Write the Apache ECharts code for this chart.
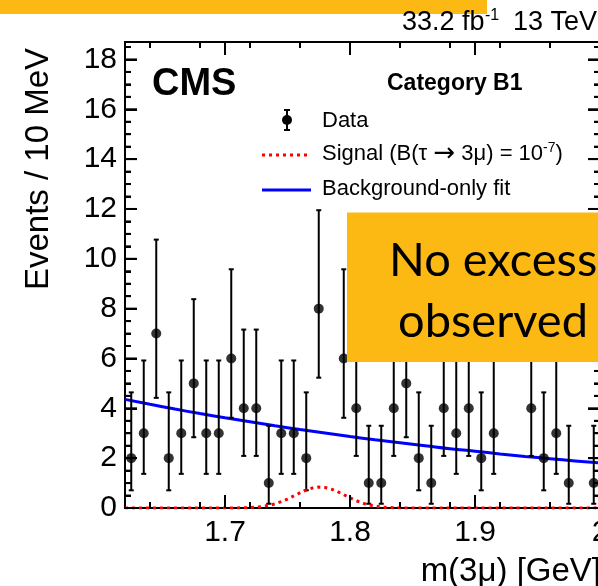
<!DOCTYPE html>
<html><head><meta charset="utf-8">
<script src="https://cdn.jsdelivr.net/npm/echarts@6/dist/echarts.min.js"></script>
<style>html,body{margin:0;padding:0;background:#fff}#c{width:598px;height:586px}</style>
</head><body><div id="c"></div>
<script>
// ---- data ----
const binCenters = [1.625,1.635,1.645,1.655,1.665,1.675,1.685,1.695,1.705,1.715,1.725,1.735,1.745,1.755,1.765,1.775,1.785,1.795,1.805,1.815,1.825,1.835,1.845,1.855,1.865,1.875,1.885,1.895,1.905,1.915,1.925,1.935,1.945,1.955,1.965,1.975,1.985,1.995];
const counts = [2,3,7,2,3,5,3,3,6,4,4,1,3,3,2,8,0,6,4,1,1,4,5,2,1,4,3,4,2,3,0,0,4,2,3,1,0,1];
// error-bar ends read for each count value (index = count)
const errLowByCount  = [0, 0.17, 0.71, 1.37, 2.09, 2.84, 3.62, 4.42, 5.23];
const errHighByCount = [1.84, 3.30, 4.64, 5.92, 7.16, 8.38, 9.58, 10.77, 11.95];
const bkgMass = [1.62,1.64,1.66,1.68,1.70,1.72,1.74,1.76,1.78,1.80,1.82,1.84,1.86,1.88,1.90,1.92,1.94,1.96,1.98,2.00];
const bkgFit  = [4.36,4.16,3.97,3.79,3.62,3.46,3.30,3.15,3.01,2.87,2.74,2.62,2.50,2.38,2.28,2.17,2.07,1.98,1.89,1.81];
const sigMass = [1.62,1.70,1.71,1.72,1.725,1.73,1.735,1.74,1.745,1.75,1.755,1.76,1.765,1.77,1.775,1.78,1.785,1.79,1.795,1.80,1.805,1.81,1.815,1.82,1.825,1.83,1.84,1.85,1.86,2.00];
const sigVal  = [0,0.001,0.004,0.017,0.033,0.060,0.103,0.166,0.253,0.361,0.484,0.610,0.722,0.803,0.839,0.823,0.759,0.657,0.535,0.409,0.294,0.198,0.125,0.075,0.042,0.022,0.005,0.001,0,0];
const yMajorTicks = [0,2,4,6,8,10,12,14,16,18];
const xMajorTicks = [1.7,1.8,1.9,2.0];
const xMin = 1.62, xMax = 2.0, yMin = 0, yMax = 18.7;

// minor tick positions (axis decoration)
const yMinorTicks = []; for (let k = 1; k * 0.5 < yMax; k++) { if (k % 4 !== 0) yMinorTicks.push(k * 0.5); }
const xMinorTicks = []; for (let k = 82; k < 100; k += 2) { if (k % 5 !== 0) xMinorTicks.push(+(k / 50).toFixed(2)); }

const ORANGE = '#FDB913';
const FONT = 'Liberation Sans, Arial, Helvetica, sans-serif';

const points = [];
binCenters.forEach((m, i) => { if (counts[i] > 0) points.push([m, counts[i], errLowByCount[counts[i]], errHighByCount[counts[i]]]); });

// tick table: [x value, y value, length, orientation (0 = x tick, 1 = y tick)]
// rows are anchored inside the plot; the tick itself is drawn at the frame edge
const yMid = 9, xMid = 1.8;
const tickData = xMinorTicks.map(v => [v, yMid, 6, 0])
  .concat(xMajorTicks.map(v => [v, yMid, 13, 0]))
  .concat(yMinorTicks.map(v => [xMid, v, 6, 1]))
  .concat(yMajorTicks.map(v => [xMid, v, 12, 1]));

const GRID = { left: 125, top: 42, width: 475, height: 466, outerBoundsMode: 'none' };
function gridDef(show) {
  return Object.assign({}, GRID, show ? { show: true, borderColor: '#000', borderWidth: 2, backgroundColor: 'transparent' } : { show: false });
}
function tickAxis(gi, pos, ticks, len, isX) {
  return {
    type: 'value', gridIndex: gi, position: pos,
    min: isX ? xMin : yMin, max: isX ? xMax : yMax,
    splitLine: { show: false },
    axisLine: { show: true, onZero: false, lineStyle: { color: '#000', width: 2 } },
    axisTick: { show: true, inside: true, length: len, customValues: ticks, lineStyle: { color: '#000', width: 2 } },
    axisLabel: { show: false }
  };
}

const chart = echarts.init(document.getElementById('c'), null, { renderer: 'canvas' });
chart.setOption({
  animation: false,
  grid: [gridDef(true), gridDef(false), gridDef(false), gridDef(false), gridDef(false)],
  xAxis: [
    {
      type: 'value', gridIndex: 0, min: xMin, max: xMax,
      axisLine: { show: false }, splitLine: { show: false }, axisTick: { show: false },
      axisLabel: { show: true, customValues: xMajorTicks, fontSize: 30, color: '#000', fontFamily: FONT, margin: 10 }
    },
    tickAxis(1, 'bottom', xMajorTicks, 13, true),
    tickAxis(2, 'bottom', xMinorTicks, 6, true),
    tickAxis(3, 'top', xMajorTicks, 13, true),
    tickAxis(4, 'top', xMinorTicks, 6, true)
  ],
  yAxis: [
    {
      type: 'value', gridIndex: 0, min: yMin, max: yMax,
      axisLine: { show: false }, splitLine: { show: false }, axisTick: { show: false },
      axisLabel: { show: true, customValues: yMajorTicks, fontSize: 30, color: '#000', fontFamily: FONT, margin: 8 }
    },
    tickAxis(1, 'left', yMajorTicks, 12, false),
    tickAxis(2, 'left', yMinorTicks, 6, false),
    tickAxis(3, 'right', yMajorTicks, 12, false),
    tickAxis(4, 'right', yMinorTicks, 6, false)
  ],
  series: [
    {
      type: 'line', name: 'Background-only fit', xAxisIndex: 0, yAxisIndex: 0,
      data: bkgMass.map((m, i) => [m, bkgFit[i]]), showSymbol: false, smooth: true,
      lineStyle: { color: '#0000ff', width: 3 }, z: 5
    },
    {
      type: 'custom', name: 'Data errors', xAxisIndex: 0, yAxisIndex: 0,
      data: points.map(p => [p[0], p[2], p[3]]),
      renderItem: function (params, api) {
        const x = api.value(0);
        const a = api.coord([x, api.value(1)]);
        const b = api.coord([x, api.value(2)]);
        const c = 2.5, st = { stroke: '#000', lineWidth: 2 };
        return { type: 'group', children: [
          { type: 'line', shape: { x1: a[0], y1: a[1], x2: b[0], y2: b[1] }, style: st },
          { type: 'line', shape: { x1: a[0] - c, y1: a[1], x2: a[0] + c, y2: a[1] }, style: st },
          { type: 'line', shape: { x1: b[0] - c, y1: b[1], x2: b[0] + c, y2: b[1] }, style: st }
        ]};
      }, z: 6
    },
    {
      type: 'scatter', name: 'Data', xAxisIndex: 0, yAxisIndex: 0,
      data: points.map(p => [p[0], p[1]]), symbol: 'circle', symbolSize: 10,
      itemStyle: { color: '#000' }, z: 7
    },
    {
      type: 'line', name: 'Signal', xAxisIndex: 0, yAxisIndex: 0,
      data: sigMass.map((m, i) => [m, sigVal[i]]), showSymbol: false,
      lineStyle: { color: '#ff0000', width: 3, type: [3, 4] }, z: 8
    },
    {
      type: 'custom', name: 'ticks', xAxisIndex: 0, yAxisIndex: 0, data: tickData, clip: false,
      renderItem: function (params, api) {
        const xv = api.value(0), yv = api.value(1), len = api.value(2), o = api.value(3);
        const st = { stroke: '#000', lineWidth: 2 };
        if (o < 0.5) {
          const b = api.coord([xv, yMin]), t = api.coord([xv, yMax]);
          return { type: 'group', children: [
            { type: 'line', shape: { x1: b[0], y1: b[1], x2: b[0], y2: b[1] - len }, style: st },
            { type: 'line', shape: { x1: t[0], y1: t[1], x2: t[0], y2: t[1] + len }, style: st }
          ]};
        }
        const l = api.coord([xMin, yv]), r = api.coord([xMax, yv]);
        return { type: 'group', children: [
          { type: 'line', shape: { x1: l[0], y1: l[1], x2: l[0] + len, y2: l[1] }, style: st },
          { type: 'line', shape: { x1: r[0], y1: r[1], x2: r[0] - len, y2: r[1] }, style: st }
        ]};
      }, z: 9
    }
  ],
  graphic: [
    { type: 'rect', shape: { x: 0, y: 0, width: 487, height: 14 }, style: { fill: ORANGE }, z: 100 },
    { type: 'text', x: 402, y: 23, style: { text: '33.2 fb', font: '27px ' + FONT, fill: '#000', align: 'left', verticalAlign: 'middle' }, z: 100 },
    { type: 'text', x: 485, y: 16, style: { text: '-1', font: '16px ' + FONT, fill: '#000', align: 'left', verticalAlign: 'middle' }, z: 100 },
    { type: 'text', x: 513, y: 23, style: { text: '13 TeV', font: '27px ' + FONT, fill: '#000', align: 'left', verticalAlign: 'middle' }, z: 100 },
    { type: 'text', x: 152, y: 85, style: { text: 'CMS', font: 'bold 38px ' + FONT, fill: '#000', align: 'left', verticalAlign: 'middle' }, z: 100 },
    { type: 'text', x: 387, y: 84, style: { text: 'Category B1', font: 'bold 23px ' + FONT, fill: '#000', align: 'left', verticalAlign: 'middle' }, z: 100 },
    // legend
    { type: 'line', shape: { x1: 287, y1: 110, x2: 287, y2: 130 }, style: { stroke: '#000', lineWidth: 2 }, z: 100 },
    { type: 'line', shape: { x1: 284, y1: 110, x2: 290, y2: 110 }, style: { stroke: '#000', lineWidth: 2 }, z: 100 },
    { type: 'line', shape: { x1: 284, y1: 130, x2: 290, y2: 130 }, style: { stroke: '#000', lineWidth: 2 }, z: 100 },
    { type: 'circle', shape: { cx: 287, cy: 120, r: 5 }, style: { fill: '#000' }, z: 100 },
    { type: 'text', x: 322, y: 121, style: { text: 'Data', font: '22px ' + FONT, fill: '#000', align: 'left', verticalAlign: 'middle' }, z: 100 },
    { type: 'line', shape: { x1: 262, y1: 155, x2: 311, y2: 155 }, style: { stroke: '#ff0000', lineWidth: 3, lineDash: [3, 4] }, z: 100 },
    { type: 'text', x: 322, y: 154, style: {
        text: '{a|Signal (B(τ }{b|→}{a| 3μ) = 10}{s|-7}{a|)}', fill: '#000', align: 'left', verticalAlign: 'middle',
        rich: { a: { fontSize: 22, fontFamily: FONT, lineHeight: 26 }, b: { fontSize: 26, fontFamily: 'DejaVu Sans, sans-serif', lineHeight: 26 }, s: { fontSize: 14, fontFamily: FONT, verticalAlign: 'top', lineHeight: 14 } } }, z: 100 },
    { type: 'line', shape: { x1: 262, y1: 190, x2: 311, y2: 190 }, style: { stroke: '#0000ff', lineWidth: 3 }, z: 100 },
    { type: 'text', x: 322, y: 189, style: { text: 'Background-only fit', font: '22px ' + FONT, fill: '#000', align: 'left', verticalAlign: 'middle' }, z: 100 },
    // axis titles
    { type: 'text', x: 39, y: 169, rotation: Math.PI / 2, style: { text: 'Events / 10 MeV', font: '33px ' + FONT, fill: '#000', align: 'center', verticalAlign: 'middle' }, z: 100 },
    { type: 'text', x: 601, y: 572, style: { text: 'm(3μ) [GeV]', font: '33px ' + FONT, fill: '#000', align: 'right', verticalAlign: 'middle' }, z: 100 },
    // orange annotation box
    { type: 'rect', shape: { x: 347, y: 212.5, width: 280, height: 149.5 }, style: { fill: ORANGE }, z: 200 },
    { type: 'text', x: 389, y: 261, style: { text: 'No excess', font: '47px Lato, sans-serif', fill: '#000', align: 'left', verticalAlign: 'middle' }, z: 201 },
    { type: 'text', x: 398, y: 322, style: { text: 'observed', font: '47px Lato, sans-serif', fill: '#000', align: 'left', verticalAlign: 'middle' }, z: 201 }
  ]
});
</script>
</body></html>
